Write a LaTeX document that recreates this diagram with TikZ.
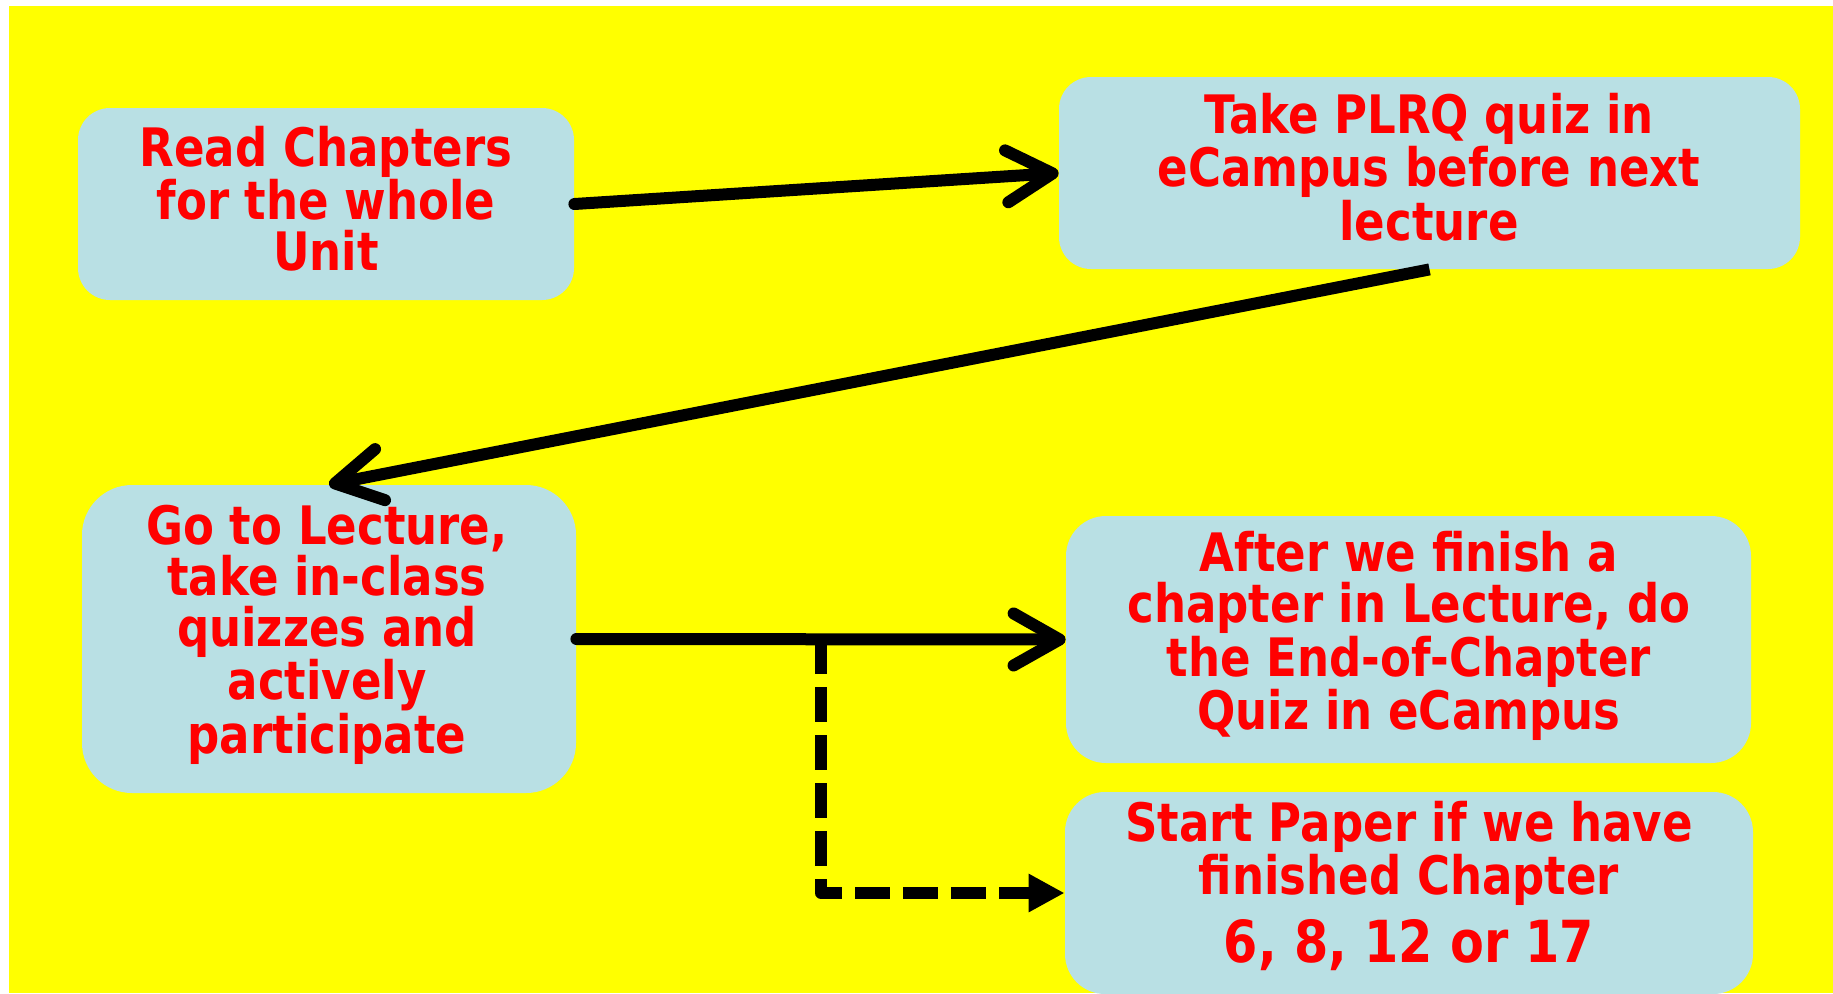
\documentclass[tikz,border=0pt]{standalone}
\usepackage{fontspec}
\setmainfont[FakeStretch=0.85]{DejaVu Sans}
\usetikzlibrary{arrows.meta}
\definecolor{bgyellow}{RGB}{255,255,0}
\definecolor{boxfill}{RGB}{185,224,228}
\definecolor{txtred}{RGB}{255,0,0}
\begin{document}
\begin{tikzpicture}[x=0.5pt,y=-0.5pt,
  box/.style={fill=boxfill, draw=none, inner sep=0pt, align=center,
    font=\bfseries\fontsize{26.5}{25.5}\selectfont, text=txtred},
  conn/.style={line width=6pt, line cap=round,
    -{Straight Barb[round,length=23pt,width=26pt]}},
  dconn/.style={line width=6pt, line join=round, dash pattern=on 17.5pt off 6.5pt,
    -{Triangle[length=18pt,width=18pt]}}
]
\useasboundingbox (0,0) rectangle (1833,993);
\fill[white] (0,0) rectangle (1833,993);
\fill[bgyellow] (9,6) rectangle (1833,993);

\node[box, minimum width=248pt, minimum height=96pt, rounded corners=16pt] (b1) at (326,204) {};
\node[box, minimum width=370.5pt, minimum height=96pt, rounded corners=16pt] (b2) at (1429.5,173) {};
\node[box, minimum width=247pt, minimum height=154pt, rounded corners=25pt] (b3) at (329,639) {};
\node[box, minimum width=342.5pt, minimum height=123.5pt, rounded corners=20pt] (b4) at (1408.5,639.5) {};
\node[box, minimum width=344pt, minimum height=101pt, rounded corners=20pt] (b5) at (1409,893) {};

\node[box, fill=none] (t1) at (326,199) {Read Chapters\\for the whole\\Unit};
\node[box, fill=none] (t2) at (1429,167) {Take PLRQ quiz in\\eCampus before next\\lecture};
\node[box, fill=none] (t3) at (327,635) {Go to Lecture,\\take in-class\\quizzes and\\actively\\participate};
\node[box, fill=none] (t4) at (1409,636) {After we finish a\\chapter in Lecture, do\\the End-of-Chapter\\Quiz in eCampus};
\node[box, fill=none] (t5) at (1409,886) {Start Paper if we have\\finished Chapter\\[6pt]{\fontsize{29}{29}\selectfont 6, 8, 12 or 17}};

\draw[conn] (b1.east) -- (b2.west);
\draw[conn, line cap=butt] (b2.south) -- (b3.north);
\draw[conn] (b3.east) -- (b4.west);
\coordinate (j) at (821,639);
\draw[dconn] (j) |- (b5.west);
\end{tikzpicture}
\end{document}
